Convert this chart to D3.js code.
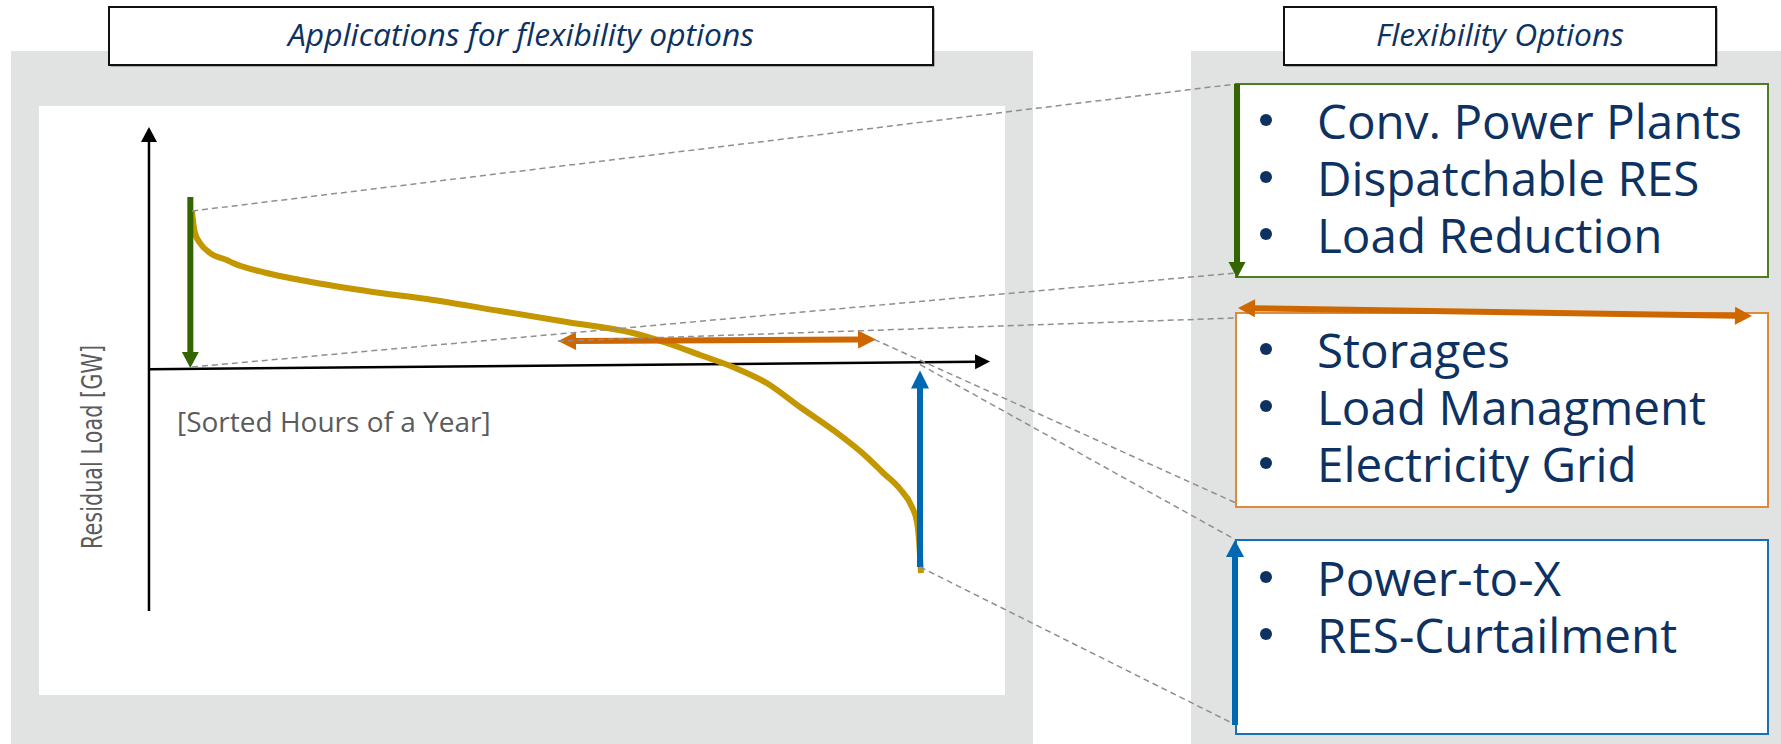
<!DOCTYPE html>
<html>
<head>
<meta charset="utf-8">
<script src="https://cdn.jsdelivr.net/npm/d3@7/dist/d3.min.js"></script>
<style>
	html, body { margin: 0; padding: 0; background: #ffffff; }
	svg { display: block; }
	.title { font-family: "Open Sans", sans-serif; font-style: italic; font-size: 31.8px; fill: #0d3262; }
	.option { font-family: "Open Sans", sans-serif; font-size: 47.6px; fill: #0d3262; }
	.axis-label { font-family: "Open Sans", sans-serif; fill: #5b5b5b; }
</style>
</head>
<body>
<div id="chart"></div>
<script>
// load duration curve (hours sorted, residual load in GW)
var sortedHours  = [0, 18, 36, 96, 216, 417, 493, 898, 1298, 2099, 2896, 3701, 4503, 5300, 5705, 6105, 6501, 6906, 7305, 7703, 8108, 8307, 8508, 8652, 8712, 8736, 8760];
var residualLoad = [78, 71, 67, 62, 57, 53.5, 52, 47, 43.5, 38, 33.5, 28, 22.5, 17, 12, 6, 0, -8, -20, -31.5, -45, -53, -61, -70, -77.5, -86.5, -103];

// axis extents (hours / GW)
var hourAxisExtent = [-517, 9590];
var loadAxisExtent = [-122, 120];
var hourAxisTilt = [-1.1, 2.7];

// flexibility applications drawn on the curve: [hour from, GW from, hour to, GW to]
var peakArrow    = [-20, 85, -20, -0.5];
var shiftArrow   = [4398, 13, 8220, 13.8];
var surplusArrow = [8748, -100, 8748, -1.8];

var panelTitles = ["Applications for flexibility options", "Flexibility Options"];
var yAxisTitle = "Residual Load [GW]";
var xAxisTitle = "[Sorted Hours of a Year]";

var greenOptions  = ["Conv. Power Plants", "Dispatchable RES", "Load Reduction"];
var orangeOptions = ["Storages", "Load Managment", "Electricity Grid"];
var blueOptions   = ["Power-to-X", "RES-Curtailment"];

var W = 1781, H = 744;
var grey = "#e1e3e2";
var dashGrey = "#8f8f8f";
var colors = { green: "#336600", greenBox: "#4d7d1c", orange: "#cf6700", orangeBox: "#dd8a3a", blue: "#0068b0", blueBox: "#1a70b6", curve: "#c49600" };

var svg = d3.select("#chart").append("svg")
	.attr("width", W)
	.attr("height", H);

var x = d3.scaleLinear().domain([0, 8760]).range([192, 921]);
var y = d3.scaleLinear().domain([0, 80]).range([367, 207]);

function drawArrow(g, x1, y1, x2, y2, color, width, headLen, headW, twoHeads) {
	var dx = x2 - x1, dy = y2 - y1;
	var len = Math.sqrt(dx * dx + dy * dy);
	var ux = dx / len, uy = dy / len;
	var nx = -uy, ny = ux;
	var sx = twoHeads ? x1 + ux * (headLen - 1) : x1;
	var sy = twoHeads ? y1 + uy * (headLen - 1) : y1;

	g.append("line")
	.attr("x1", sx).attr("y1", sy)
	.attr("x2", x2 - ux * (headLen - 1)).attr("y2", y2 - uy * (headLen - 1))
	.attr("stroke", color)
	.attr("stroke-width", width);

	function head(tx, ty, vx, vy) {
		var bx = tx - vx * headLen, by = ty - vy * headLen;
		g.append("path")
		.attr("d", "M" + tx + "," + ty +
			"L" + (bx + nx * headW / 2) + "," + (by + ny * headW / 2) +
			"L" + (bx - nx * headW / 2) + "," + (by - ny * headW / 2) + "Z")
		.attr("fill", color);
	}
	head(x2, y2, ux, uy);
	if (twoHeads) head(x1, y1, -ux, -uy);
}

// background panels
svg.append("rect").attr("x", 11).attr("y", 51).attr("width", 1022).attr("height", 693).attr("fill", grey);
svg.append("rect").attr("x", 39).attr("y", 106).attr("width", 966).attr("height", 589).attr("fill", "#ffffff");
svg.append("rect").attr("x", 1191).attr("y", 51).attr("width", 590).attr("height", 693).attr("fill", grey);

// title boxes
var titleBoxes = [[109, 824], [1284, 432]];
titleBoxes.forEach(function(b, i) {
	svg.append("rect")
	.attr("x", b[0] + 1.5).attr("y", 8.5).attr("width", b[1]).attr("height", 58)
	.attr("fill", "#6e6e6e");
	svg.append("rect")
	.attr("x", b[0]).attr("y", 7).attr("width", b[1]).attr("height", 58)
	.attr("fill", "#ffffff")
	.attr("stroke", "#111111")
	.attr("stroke-width", 2);
	svg.append("text")
	.attr("class", "title")
	.attr("x", b[0] + b[1] / 2)
	.attr("y", 46)
	.attr("text-anchor", "middle")
	.text(panelTitles[i]);
});

// chart group
var chart = svg.append("g");

// axes
drawArrow(chart, x(hourAxisExtent[0]), y(loadAxisExtent[0]), x(hourAxisExtent[0]), y(loadAxisExtent[1]), "#000000", 2.5, 15, 16, false);
drawArrow(chart, x(hourAxisExtent[0]), y(hourAxisTilt[0]), x(hourAxisExtent[1]), y(hourAxisTilt[1]), "#000000", 2.5, 15, 15, false);

chart.append("text")
.attr("class", "axis-label")
.attr("x", 177)
.attr("y", 432)
.style("font-size", "28px")
.text(xAxisTitle);

chart.append("text")
.attr("class", "axis-label")
.attr("transform", "translate(102,447) rotate(-90)")
.attr("text-anchor", "middle")
.attr("textLength", 204)
.attr("lengthAdjust", "spacingAndGlyphs")
.style("font-family", "'DejaVu Sans', Verdana, sans-serif")
.style("font-size", "28px")
.text(yAxisTitle);

// boxes on the right
var boxX = 1236, boxW = 532;
var boxes = [
	{ top: 84, h: 193, items: greenOptions, color: colors.greenBox, first: 139 },
	{ top: 313, h: 194, items: orangeOptions, color: colors.orangeBox, first: 368 },
	{ top: 540, h: 194, items: blueOptions, color: colors.blueBox, first: 596 }
];
var lineHeight = 57;

// dashed connectors, from the marks to the boxes
var connectors = [
	[x(0), y(78), boxX, boxes[0].top],
	[x(0), y(0), boxX, boxes[0].top + boxes[0].h - 4],
	[x(shiftArrow[0]), y(shiftArrow[1]), boxX, boxes[1].top + 5],
	[x(shiftArrow[2]) - 2, y(shiftArrow[3]), boxX, boxes[1].top + boxes[1].h - 4],
	[x(surplusArrow[0]), y(surplusArrow[3]) - 6, boxX, boxes[2].top],
	[x(surplusArrow[0]), y(surplusArrow[1]), boxX, boxes[2].top + boxes[2].h - 9]
];
svg.append("g").selectAll("line")
	.data(connectors)
	.enter().append("line")
	.attr("x1", function(d) { return d[0]; })
	.attr("y1", function(d) { return d[1]; })
	.attr("x2", function(d) { return d[2]; })
	.attr("y2", function(d) { return d[3]; })
	.attr("stroke", dashGrey)
	.attr("stroke-width", 1.5)
	.attr("stroke-dasharray", "6,4");

boxes.forEach(function(b) {
	var g = svg.append("g");
	g.append("rect")
	.attr("x", boxX).attr("y", b.top).attr("width", boxW).attr("height", b.h)
	.attr("fill", "#ffffff")
	.attr("stroke", b.color)
	.attr("stroke-width", 2);
	b.items.forEach(function(t, i) {
		g.append("circle")
		.attr("cx", 1266)
		.attr("cy", b.first + i * lineHeight - 19)
		.attr("r", 6)
		.attr("fill", "#0d3262");
		g.append("text")
		.attr("class", "option")
		.attr("x", 1317)
		.attr("y", b.first + i * lineHeight)
		.text(t);
	});
});

// arrows on the boxes
drawArrow(svg, boxX + 1, boxes[0].top, boxX + 1, boxes[0].top + boxes[0].h + 1, colors.green, 6, 16, 17, false);
drawArrow(svg, boxX + 2, boxes[1].top - 5, 1752, boxes[1].top + 3, colors.orange, 6, 17, 18, true);
drawArrow(svg, boxX - 1, boxes[2].top + boxes[2].h - 9, boxX - 1, boxes[2].top, colors.blue, 6, 17, 18, false);

// load duration curve
var line = d3.line()
	.x(function(d, i) { return x(sortedHours[i]); })
	.y(function(d) { return y(d); })
	.curve(d3.curveMonotoneX);

chart.append("path")
.datum(residualLoad)
.attr("d", line)
.attr("fill", "none")
.attr("stroke", colors.curve)
.attr("stroke-width", 6)
.attr("stroke-linejoin", "round");

// flexibility arrows on the curve
drawArrow(chart, x(peakArrow[0]), y(peakArrow[1]), x(peakArrow[2]), y(peakArrow[3]), colors.green, 6, 16, 17, false);
drawArrow(chart, x(shiftArrow[0]), y(shiftArrow[1]), x(shiftArrow[2]), y(shiftArrow[3]), colors.orange, 6, 18, 18, true);
drawArrow(chart, x(surplusArrow[0]), y(surplusArrow[1]), x(surplusArrow[2]), y(surplusArrow[3]), colors.blue, 6, 18, 18, false);
</script>
</body>
</html>
